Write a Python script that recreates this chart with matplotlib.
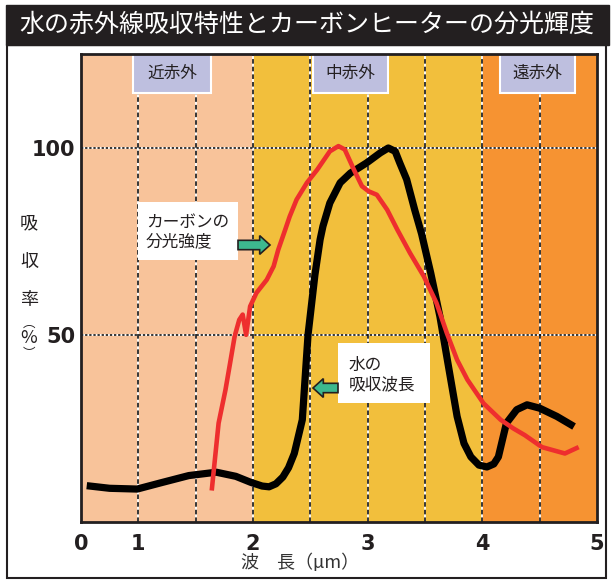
import numpy as np
import matplotlib.pyplot as plt
from matplotlib.patches import Rectangle, FancyArrow

plt.rcParams['font.family'] = ['Noto Sans CJK JP', 'DejaVu Sans']

# water absorption (black), wavelength in um, absorption in %
water_um = [0.10, 0.50, 0.98, 1.20, 1.44, 1.68, 1.85, 1.98, 2.08, 2.14, 2.20, 2.26,
            2.31, 2.36, 2.43, 2.48, 2.54, 2.585, 2.61, 2.67, 2.76, 2.85, 2.99, 3.11,
            3.18, 3.24, 3.28, 3.34, 3.41, 3.47, 3.55, 3.63, 3.70, 3.78, 3.84, 3.90,
            3.97, 4.04, 4.10, 4.14, 4.21, 4.30, 4.39, 4.50, 4.65, 4.80]
water_abs = [9.7, 9.0, 8.8, 10.5, 12.4, 13.3, 12.2, 10.6, 9.6, 9.4, 10.2, 12.0,
             14.5, 18.3, 27.3, 50.0, 66.0, 75.4, 79.0, 85.2, 90.6, 93.2, 95.9, 98.6,
             99.9, 99.0, 95.9, 91.5, 83.4, 77.0, 66.5, 54.9, 42.4, 28.2, 21.0, 17.4,
             15.2, 14.7, 15.5, 17.4, 26.4, 30.0, 31.3, 30.4, 28.2, 25.5]

# carbon heater spectral intensity (red)
heater_um = [1.64, 1.70, 1.76, 1.80, 1.84, 1.88, 1.91, 1.94, 1.975, 2.03, 2.12, 2.18,
             2.22, 2.28, 2.32, 2.38, 2.47, 2.56, 2.67, 2.745, 2.80, 2.88, 2.95, 3.01,
             3.08, 3.17, 3.26, 3.37, 3.49, 3.60, 3.69, 3.78, 3.87, 4.01, 4.16, 4.27,
             4.37, 4.52, 4.72, 4.84]
heater_int = [8.4, 26.4, 35.3, 42.4, 49.6, 54.0, 55.4, 50.0, 57.6, 61.2, 64.7, 68.3,
              72.7, 78.0, 81.6, 86.1, 90.6, 94.1, 99.0, 100.4, 99.5, 94.1, 89.7, 88.3,
              87.4, 83.4, 78.0, 71.8, 65.6, 58.5, 50.5, 43.3, 38.0, 31.7, 27.3, 25.0,
              23.2, 20.0, 18.3, 20.0]

zone_edges = [(0, 2), (2, 4), (4, 5)]
zone_colors = ['#F8C39A', '#F2BF3C', '#F69332']
zone_labels = ['近赤外', '中赤外', '遠赤外']
x_ticks = [0, 1, 2, 3, 4, 5]
grid_x = [1, 1.5, 2, 2.5, 3, 3.5, 4, 4.5]
y_ticks = [50, 100]

W, H = 615, 584


def fx(px):
    return px / W


def fy(py):
    return 1 - py / H


# axis is stretched after 1 um (0-1 takes one cell, then 0.5 um per cell)
def fwd(x):
    x = np.asarray(x, dtype=float)
    return np.where(x < 1, x, 2 * x - 1)


def inv(s):
    s = np.asarray(s, dtype=float)
    return np.where(s < 1, s, (s + 1) / 2)


fig = plt.figure(figsize=(6.15, 5.84), dpi=100)

# title bar and outer frame
fig.patches.append(Rectangle((fx(6), fy(45)), fx(609) - fx(6), fy(5) - fy(45),
                             transform=fig.transFigure, color='#231F20', zorder=0))
fig.patches.append(Rectangle((fx(7), fy(578)), fx(606) - fx(7), fy(45) - fy(578),
                             transform=fig.transFigure, fill=False, ec='#231F20', lw=1.5, zorder=0))
fig.text(fx(307), fy(25), '水の赤外線吸収特性とカーボンヒーターの分光輝度', color='white',
         fontsize=18, ha='center', va='center')

ax = fig.add_axes([fx(81), fy(522), 516 / W, 468 / H])
ax.set_xscale('function', functions=(fwd, inv))
ax.set_xlim(0, 5)
ax.set_ylim(0, 125)

for (a, b), c in zip(zone_edges, zone_colors):
    ax.axvspan(a, b, color=c, lw=0, zorder=0)

for x in grid_x:
    ax.axvline(x, color='white', lw=1.3, zorder=1)
    ax.axvline(x, color='black', lw=1.1, ls=(0, (3, 2)), zorder=1.5)
for y in y_ticks:
    ax.axhline(y, color='white', lw=1.3, zorder=1)
    ax.axhline(y, color='black', lw=1.1, ls=(0, (1.5, 1.2)), zorder=1.5)

# zone label boxes
box_x = [(133, 211), (313, 388), (500, 575)]
for (x0, x1), lab in zip(box_x, zone_labels):
    a0 = (x0 - 81) / 516
    a1 = (x1 - 81) / 516
    b0 = (522 - 93) / 468
    ax.add_patch(Rectangle((a0, b0), a1 - a0, 1 - b0, transform=ax.transAxes,
                           fc='#BEBFDF', ec='white', lw=1.5, zorder=2, clip_on=False))
    ax.text((a0 + a1) / 2, (b0 + 1) / 2, lab, transform=ax.transAxes, ha='center',
            va='center', fontsize=12, color='#231F20', zorder=3)

ax.plot(water_um, water_abs, color='black', lw=5.2, solid_joinstyle='round',
        solid_capstyle='butt', zorder=4)
ax.plot(heater_um, heater_int, color='#EE2E2E', lw=3.3, solid_joinstyle='round',
        solid_capstyle='butt', zorder=5)


def note_box(x0, x1, y0, y1, text, tx, ty):
    a0, a1 = (x0 - 81) / 516, (x1 - 81) / 516
    b0, b1 = (522 - y1) / 468, (522 - y0) / 468
    ax.add_patch(Rectangle((a0, b0), a1 - a0, b1 - b0, transform=ax.transAxes,
                           fc='white', ec='none', zorder=6))
    ax.text((tx - 81) / 516, (522 - ty) / 468, text, transform=ax.transAxes,
            ha='left', va='center', fontsize=12, color='#231F20', linespacing=1.15, zorder=7)


def arrow(x_tail, x_tip, y):
    a0, a1 = (x_tail - 81) / 516, (x_tip - 81) / 516
    b = (522 - y) / 468
    ax.add_patch(FancyArrow(a0, b, a1 - a0, 0, width=0.02, head_width=0.04,
                            head_length=0.02, length_includes_head=True,
                            transform=ax.transAxes, fc='#3DB88E', ec='#231F20',
                            lw=1.2, zorder=7))


note_box(138, 238, 202, 260, 'カーボンの\n分光強度', 146, 232)
arrow(238, 270, 245)
note_box(338, 430, 343, 403, '水の\n吸収波長', 349, 375)
arrow(338, 313, 388)

ax.set_xticks(x_ticks)
ax.set_xticklabels([str(t) for t in x_ticks], fontsize=15, fontweight='bold',
                   family='DejaVu Sans', color='#231F20')
ax.set_yticks(y_ticks)
ax.set_yticklabels([str(t) for t in y_ticks], fontsize=15, fontweight='bold',
                   family='DejaVu Sans', color='#231F20')
ax.tick_params(axis='both', length=0)
ax.tick_params(axis='x', pad=9)
ax.tick_params(axis='y', pad=4)
ax.xaxis.set_minor_locator(plt.NullLocator())
for s in ax.spines.values():
    s.set_linewidth(2)
    s.set_color('#231F20')

# y label written vertically
for ch, py in zip(['吸', '収', '率'], [223, 262, 300]):
    fig.text(fx(29), fy(py), ch, fontsize=13, ha='center', va='center', color='#231F20')
fig.text(fx(29), fy(323), '︵', fontsize=9, ha='center', va='center', color='#231F20')
fig.text(fx(29), fy(338), '%', fontsize=13, ha='center', va='center', color='#231F20')
fig.text(fx(29), fy(354), '︶', fontsize=9, ha='center', va='center', color='#231F20')

fig.text(fx(300), fy(563), '波　長（µm）', fontsize=13, ha='center', va='center', color='#333333')

fig.savefig('out.png', dpi=100)
